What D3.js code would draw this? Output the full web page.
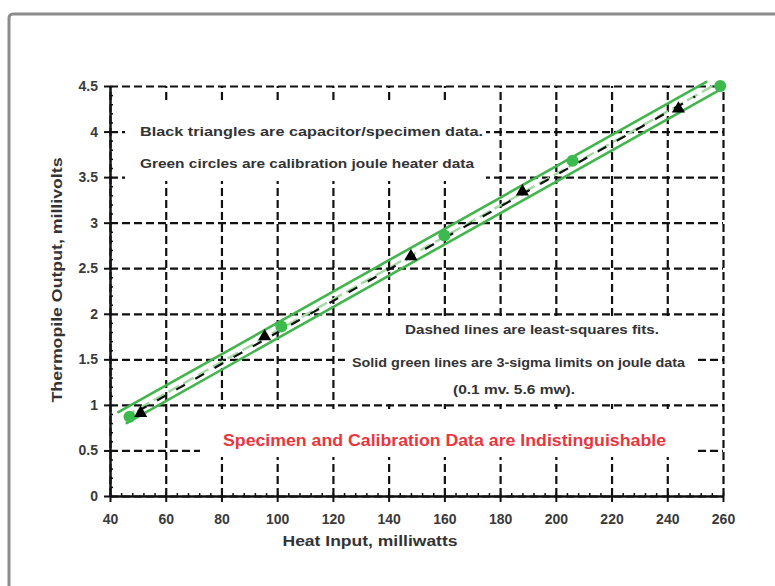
<!DOCTYPE html>
<html>
<head>
<meta charset="utf-8">
<script src="https://d3js.org/d3.v7.min.js"></script>
<style>
  body { margin: 0; background: #fff; }
  svg { display: block; font-family: "Liberation Sans", Arial, sans-serif; }
</style>
</head>
<body>
<div id="chartDiv"></div>
<script>
// tick values
var xTicks = [40, 60, 80, 100, 120, 140, 160, 180, 200, 220, 240, 260];
var yTicks = [0, 0.5, 1, 1.5, 2, 2.5, 3, 3.5, 4, 4.5];

// green circles: calibration joule heater data
var calX = [47, 101.5, 160, 206, 259];
var calY = [0.87, 1.86, 2.86, 3.68, 4.5];

// black triangles: capacitor/specimen data
var specX = [51, 95.5, 148, 188, 244];
var specY = [0.91, 1.75, 2.63, 3.34, 4.25];

var sigmaMv = 0.085;   // half-width of the drawn 3-sigma band (mv)

;(function() {

	var width = 775;
	var height = 586;
	var margin = { top: 86, left: 110 };
	var chartWidth = 613;
	var chartHeight = 410;

	var svg = d3.select("#chartDiv").append("svg")
		.attr("width", width)
		.attr("height", height);

	// grey frame
	svg.append("rect")
		.attr("x", 9).attr("y", 14)
		.attr("width", 800).attr("height", 620)
		.attr("rx", 4)
		.attr("fill", "none")
		.attr("stroke", "#8c8c8c")
		.attr("stroke-width", 3);

	var xScale = d3.scaleLinear().domain([40, 260]).range([0, chartWidth]);
	var yScale = d3.scaleLinear().domain([0, 4.5]).range([chartHeight, 0]);

	var plot = svg.append("g")
		.attr("transform", "translate(" + margin.left + "," + margin.top + ")");

	// dashed grid
	var gx = plot.append("g")
		.attr("transform", "translate(0," + chartHeight + ")")
		.call(d3.axisBottom(xScale).tickValues(xTicks).tickSize(-chartHeight).tickFormat(""));
	var gy = plot.append("g")
		.call(d3.axisLeft(yScale).tickValues(yTicks).tickSize(-chartWidth).tickFormat(""));
	[gx, gy].forEach(function(g) {
		g.select(".domain").remove();
		g.selectAll("line")
			.attr("stroke", "#111")
			.attr("stroke-width", 2.2)
			.attr("stroke-dasharray", "8,4");
	});

	// white boxes behind the notes (they break the grid)
	var boxes = [
		{ x0: 125, x1: 486, y0: 104, y1: 181 },
		{ x0: 345, x1: 697, y0: 318, y1: 400 },
		{ x0: 200, x1: 698, y0: 409, y1: 457 }
	];
	svg.selectAll(".box").data(boxes).enter().append("rect")
		.attr("class", "box")
		.attr("x", function(d) { return d.x0; })
		.attr("y", function(d) { return d.y0; })
		.attr("width", function(d) { return d.x1 - d.x0; })
		.attr("height", function(d) { return d.y1 - d.y0; })
		.attr("fill", "#fff");

	// notes
	var notes = [
		{ t: "Black triangles are capacitor/specimen data.", x: 140, y: 136, len: 343, c: "#333", s: 13 },
		{ t: "Green circles are calibration joule heater data", x: 140, y: 168, len: 334, c: "#333", s: 13 },
		{ t: "Dashed lines are least-squares fits.", x: 405, y: 334, len: 254, c: "#333", s: 13 },
		{ t: "Solid green lines are 3-sigma limits on joule data", x: 352, y: 367, len: 333, c: "#333", s: 13 },
		{ t: "(0.1 mv. 5.6 mw).", x: 453, y: 394, len: 122, c: "#333", s: 13 },
		{ t: "Specimen and Calibration Data are Indistinguishable", x: 223, y: 446, len: 443, c: "#e8363f", s: 16 }
	];
	svg.selectAll(".note").data(notes).enter().append("text")
		.attr("class", "note")
		.attr("x", function(d) { return d.x; })
		.attr("y", function(d) { return d.y; })
		.attr("textLength", function(d) { return d.len; })
		.attr("lengthAdjust", "spacingAndGlyphs")
		.style("font-size", function(d) { return d.s + "px"; })
		.style("font-weight", "bold")
		.attr("fill", function(d) { return d.c; })
		.text(function(d) { return d.t; });

	// least-squares fits
	function fit(xs, ys) {
		var mx = d3.mean(xs), my = d3.mean(ys);
		var sxy = d3.sum(xs, function(v, i) { return (v - mx) * (ys[i] - my); });
		var sxx = d3.sum(xs, function(v) { return (v - mx) * (v - mx); });
		var b = sxy / sxx;
		return { b: b, a: my - b * mx };
	}
	var calFit = fit(calX, calY);
	var specFit = fit(specX, specY);

	function segment(f, off, xa, xb) {
		return [[xa, f.a + f.b * xa + off], [xb, f.a + f.b * xb + off]];
	}
	var line = d3.line()
		.x(function(d) { return xScale(d[0]); })
		.y(function(d) { return yScale(d[1]); });

	// 3-sigma limits
	var limits = [
		{ off: sigmaMv, xa: 43, xb: 254 },
		{ off: -sigmaMv, xa: 46, xb: 259 }
	];
	limits.forEach(function(l) {
		plot.append("path")
			.attr("d", line(segment(calFit, l.off, l.xa, l.xb)))
			.attr("fill", "none")
			.attr("stroke", "#42b54c")
			.attr("stroke-width", 2.6)
			.attr("stroke-linecap", "round");
	});
	// calibration fit (light green dashed)
	plot.append("path")
		.attr("d", line(segment(calFit, 0, 45, 257)))
		.attr("fill", "none")
		.attr("stroke", "#a3d9a3")
		.attr("stroke-width", 2.4)
		.attr("stroke-dasharray", "12,5");
	// specimen fit (black dashed)
	plot.append("path")
		.attr("d", line(segment(specFit, 0, 50, 250)))
		.attr("fill", "none")
		.attr("stroke", "#111")
		.attr("stroke-width", 2.2)
		.attr("stroke-dasharray", "10,12");

	// points
	plot.selectAll(".cal").data(calX).enter().append("circle")
		.attr("class", "cal")
		.attr("cx", function(d) { return xScale(d); })
		.attr("cy", function(d, i) { return yScale(calY[i]); })
		.attr("r", 6)
		.attr("fill", "#3dba4e");
	plot.selectAll(".spec").data(specX).enter().append("path")
		.attr("class", "spec")
		.attr("d", d3.symbol().type(d3.symbolTriangle).size(75))
		.attr("transform", function(d, i) {
			return "translate(" + xScale(d) + "," + yScale(specY[i]) + ")";
		})
		.attr("fill", "#000");

	// minor ticks
	var minorX = d3.range(40, 261, 4);
	var minorY = d3.range(0, 4.51, 0.1);
	var mx = plot.append("g")
		.attr("transform", "translate(0," + chartHeight + ")")
		.call(d3.axisBottom(xScale).tickValues(minorX).tickSize(-3).tickFormat(""));
	var my = plot.append("g")
		.call(d3.axisLeft(yScale).tickValues(minorY).tickSize(-3).tickFormat(""));
	[mx, my].forEach(function(g) {
		g.select(".domain").remove();
		g.selectAll("line").attr("stroke", "#111").attr("stroke-width", 1.5);
	});

	// main axes
	var xAxis = plot.append("g")
		.attr("transform", "translate(0," + chartHeight + ")")
		.call(d3.axisBottom(xScale).tickValues(xTicks).tickSizeInner(6).tickSizeOuter(0).tickPadding(12));
	var yAxis = plot.append("g")
		.call(d3.axisLeft(yScale).tickValues(yTicks).tickSizeInner(6).tickSizeOuter(0).tickPadding(6)
			.tickFormat(function(d) { return d; }));
	[xAxis, yAxis].forEach(function(g) {
		g.select(".domain").attr("stroke", "#111").attr("stroke-width", 2.5);
		g.selectAll("line").attr("stroke", "#111").attr("stroke-width", 2);
		g.selectAll("text")
			.style("font-size", "14px")
			.style("font-weight", "bold")
			.style("font-family", "'Liberation Sans', Arial, sans-serif")
			.attr("fill", "#3a3a3a");
	});

	// axis titles
	svg.append("text")
		.attr("text-anchor", "middle")
		.attr("x", 370).attr("y", 546)
		.attr("textLength", 175)
		.attr("lengthAdjust", "spacingAndGlyphs")
		.style("font-size", "14px")
		.style("font-weight", "bold")
		.attr("fill", "#333")
		.text("Heat  Input,  milliwatts");

	svg.append("text")
		.attr("text-anchor", "middle")
		.attr("transform", "translate(62,280) rotate(-90)")
		.attr("textLength", 245)
		.attr("lengthAdjust", "spacingAndGlyphs")
		.style("font-size", "14px")
		.style("font-weight", "bold")
		.attr("fill", "#333")
		.text("Thermopile  Output,  millivolts");

})();
</script>
</body>
</html>
